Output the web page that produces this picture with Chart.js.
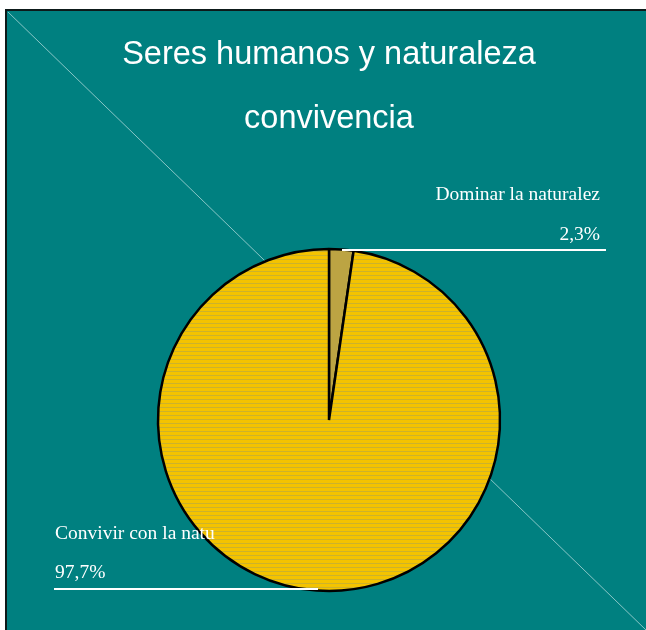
<!DOCTYPE html>
<html>
<head>
<meta charset="utf-8">
<script src="https://cdn.jsdelivr.net/npm/chart.js@4.4.1/dist/chart.umd.min.js"></script>
<style>
html,body{margin:0;padding:0;background:#fff;}
#wrap{position:relative;width:646px;height:630px;}
</style>
</head>
<body>
<div id="wrap"><canvas id="c" width="646" height="630"></canvas></div>
<script>
const titleLines = ["Seres humanos y naturaleza", "convivencia"];
const categories = ["Dominar la naturalez", "Convivir con la natu"];
const values = [2.3, 97.7];
const valueLabels = ["2,3%", "97,7%"];

// striped fill for the large slice
const pc = document.createElement('canvas');
pc.width = 4; pc.height = 4;
const px = pc.getContext('2d');
px.fillStyle = '#f4c300'; px.fillRect(0,0,4,4);
px.fillStyle = '#ccb22c'; px.fillRect(0,3,4,1);
const stripes = document.getElementById('c').getContext('2d').createPattern(pc,'repeat');

const framePlugin = {
  id: 'frame',
  beforeDraw(chart) {
    const ctx = chart.ctx;
    ctx.save();
    ctx.fillStyle = '#ffffff';
    ctx.fillRect(0,0,chart.width,chart.height);
    ctx.fillStyle = '#008080';
    ctx.fillRect(6,10,chart.width-6,chart.height-10);
    ctx.strokeStyle = '#0d1a1a';
    ctx.lineWidth = 2;
    ctx.beginPath();
    ctx.moveTo(6,chart.height); ctx.lineTo(6,10); ctx.lineTo(chart.width,10);
    ctx.stroke();
    ctx.strokeStyle = 'rgba(170,215,215,0.8)';
    ctx.lineWidth = 1;
    ctx.beginPath();
    ctx.moveTo(8,12); ctx.lineTo(646,630);
    ctx.stroke();
    ctx.restore();
  }
};

const labelPlugin = {
  id: 'sideLabels',
  afterDraw(chart) {
    const arc = chart.getDatasetMeta(0).data[0];
    const cx = arc.x, cy = arc.y, r = arc.outerRadius;
    const ctx = chart.ctx;
    ctx.save();
    ctx.fillStyle = '#ffffff';
    ctx.strokeStyle = '#ffffff';
    ctx.lineWidth = 2;
    ctx.font = '19.5px "Liberation Serif", "Times New Roman", serif';
    ctx.textBaseline = 'alphabetic';
    // slice 0 (right top)
    const y1 = cy - r + 1;
    ctx.textAlign = 'right';
    ctx.fillText(categories[0], cx + 271, y1 - 50);
    ctx.fillText(valueLabels[0], cx + 271, y1 - 10);
    ctx.beginPath(); ctx.moveTo(cx + 13, y1); ctx.lineTo(cx + 277, y1); ctx.stroke();
    // slice 1 (left bottom)
    const y2 = cy + r - 2;
    ctx.textAlign = 'left';
    ctx.fillText(categories[1], cx - 274, y2 - 50);
    ctx.fillText(valueLabels[1], cx - 274, y2 - 11);
    ctx.beginPath(); ctx.moveTo(cx - 275, y2); ctx.lineTo(cx - 11, y2); ctx.stroke();
    ctx.restore();
  }
};

new Chart(document.getElementById('c'), {
  type: 'pie',
  data: {
    labels: categories,
    datasets: [{
      data: values,
      backgroundColor: ['#bca443', stripes],
      borderColor: '#000000',
      borderWidth: 2.5,
      borderAlign: 'center'
    }]
  },
  options: {
    responsive: false,
    animation: false,
    radius: 171,
    layout: { padding: { left: 12, right: 0, top: 0, bottom: 0 } },
    plugins: {
      legend: { display: false },
      tooltip: { enabled: false },
      title: {
        display: true,
        text: titleLines,
        color: '#ffffff',
        font: { family: '"Liberation Sans", Arial, sans-serif', size: 32.5, weight: 'normal', lineHeight: 64/32.5 },
        padding: { top: 23, bottom: 59 }
      }
    }
  },
  plugins: [framePlugin, labelPlugin]
});
</script>
</body>
</html>
